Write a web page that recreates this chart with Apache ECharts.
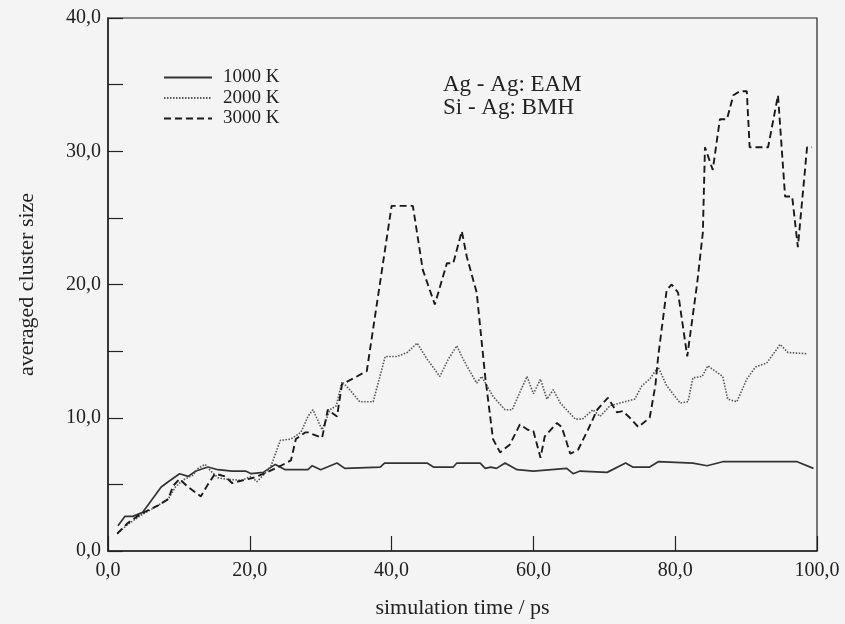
<!DOCTYPE html>
<html>
<head>
<meta charset="utf-8">
<script src="https://cdn.jsdelivr.net/npm/echarts@6/dist/echarts.min.js"></script>
<style>
html,body{margin:0;padding:0;background:#f3f4f3;}
#chart{width:845px;height:624px;}
</style>
</head>
<body>
<div id="chart"></div>
<script>
// ---- data ----
var seriesNames = ['1000 K', '2000 K', '3000 K'];

var t1000 = [1.4,2.4,3.5,4.9,7.5,8.5,10.1,11.3,12.4,14.1,15.5,17.5,19.4,20.2,21.9,23.6,25,28.2,28.8,30,32.3,33.4,38.4,39,45,45.9,48.7,49.2,52.5,53.2,54,54.8,56,57.7,60,64.7,65.6,66.6,70.4,73,74,76.4,77.6,82.5,84.5,86.7,97.2,99.5];
var v1000 = [1.9,2.6,2.6,2.9,4.8,5.2,5.8,5.6,6.0,6.3,6.1,6.0,6.0,5.8,5.9,6.5,6.1,6.1,6.4,6.1,6.6,6.2,6.3,6.6,6.6,6.3,6.3,6.6,6.6,6.2,6.3,6.2,6.6,6.1,6.0,6.2,5.8,6.0,5.9,6.6,6.3,6.3,6.7,6.6,6.4,6.7,6.7,6.2];

var t2000 = [1.3,2.8,4.7,7.0,8.5,9.5,10.5,12,12.7,13.7,14.5,15.5,16.5,18.8,20.2,21,22.1,23,24.3,25.8,27.2,28.2,28.9,30.2,31.3,32.2,33,34.1,35.5,37.4,39.1,40.8,42.2,43.6,45,46.8,48,49.2,49.9,50.6,52,52.7,54.3,56,57,59.1,60,61,61.9,62.8,63.8,65.9,66.9,68.4,69.4,70.8,72.2,74.3,75.3,76.4,77.6,78.8,80.7,81.8,82.5,83.8,84.6,85.9,86.7,87.4,88.7,90.1,91.3,92.9,94.8,95.9,98.6];
var v2000 = [1.3,2.0,2.7,3.4,3.9,4.8,5.3,5.7,6.2,6.5,6.0,5.5,5.4,5.3,5.6,5.2,5.8,6.4,8.3,8.4,8.9,10.1,10.6,9.1,10.6,10.9,12.7,12.1,11.2,11.2,14.6,14.6,14.9,15.6,14.4,13.1,14.4,15.4,14.6,13.9,12.6,13.1,11.6,10.6,10.6,13.1,11.8,12.9,11.4,12.1,11.1,9.9,9.9,10.6,10.1,10.9,11.1,11.4,12.4,12.9,13.8,12.4,11.1,11.2,13.0,13.1,13.9,13.4,13.1,11.4,11.2,12.9,13.8,14.1,15.5,14.9,14.8];

var t3000 = [1.3,2.8,4.7,7,8.5,9.2,10.1,11.3,13.1,14.1,15.1,16.5,17.5,19,20.5,22,24.4,25.8,26.5,27.8,28.2,30.2,31,32.3,33,34.4,36.5,40,43,44.4,46.1,47.8,48.7,49.9,50.6,52,53.2,54.3,55.3,56.7,58.1,59.2,60,61,61.6,63.3,64,65.2,66.3,67.7,69,70.5,71.8,72.6,73.6,74.8,76.4,77.2,77.6,78.8,79.5,80.4,81.7,83.1,83.9,84.2,85.3,86.3,87.3,88.2,89.1,90.1,90.5,93.1,94.5,95.5,96.5,97.3,98.6,99.3];
var v3000 = [1.3,2.1,2.8,3.4,3.9,4.9,5.4,4.8,4.1,5.0,5.8,5.6,5.1,5.3,5.5,5.8,6.4,6.8,8.4,8.9,8.9,8.5,10.6,10.1,12.5,12.9,13.5,25.9,25.9,21.1,18.5,21.6,21.6,24.0,22.1,19.4,13.1,8.4,7.4,8.0,9.5,9.1,9.0,7.0,8.6,9.6,9.3,7.3,7.6,9.1,10.6,11.5,10.4,10.5,10.0,9.3,10.0,12.4,14.6,19.6,20.0,19.4,14.6,20.1,23.9,30.3,28.6,32.4,32.4,34.2,34.5,34.5,30.3,30.3,34.2,26.6,26.6,22.8,30.3,30.3];

var annotations = ['Ag - Ag: EAM', 'Si - Ag: BMH'];
var xTitle = 'simulation time / ps';
var yTitle = 'averaged cluster size';

function zip(t, v) { return t.map(function (x, i) { return [x, v[i]]; }); }
function fmt(v) { return v.toFixed(1).replace('.', ','); }

var FONT = 'Liberation Serif';
var INK = '#222';

var chart = echarts.init(document.getElementById('chart'), null, {renderer: 'canvas'});
chart.setOption({
  backgroundColor: '#f3f4f3',
  animation: false,
  grid: {left: 108, right: 28, top: 18, bottom: 72, show: true, borderColor: INK, borderWidth: 1.2, backgroundColor: 'transparent'},
  legend: {
    orient: 'vertical', left: 158, top: 63,
    itemWidth: 48, itemHeight: 20, itemGap: 1.5,
    itemStyle: {opacity: 0},
    textStyle: {fontFamily: FONT, fontSize: 19, color: INK, padding: [0,0,0,6]},
    data: seriesNames
  },
  xAxis: {
    type: 'value', min: 0, max: 100, interval: 20,
    name: xTitle, nameLocation: 'middle', nameGap: 46,
    nameTextStyle: {fontFamily: FONT, fontSize: 22, color: INK},
    axisLine: {show: true, lineStyle: {color: INK, width: 1.5}},
    axisTick: {show: true, inside: true, length: 15, lineStyle: {color: INK, width: 1.2}},
    axisLabel: {fontFamily: FONT, fontSize: 20, color: INK, margin: 10, formatter: fmt},
    splitLine: {show: false}
  },
  yAxis: {
    type: 'value', min: 0, max: 40, interval: 5,
    name: yTitle, nameLocation: 'middle', nameGap: 70, nameRotate: 90,
    nameTextStyle: {fontFamily: FONT, fontSize: 22, color: INK},
    axisLine: {show: true, lineStyle: {color: INK, width: 1.5}},
    axisTick: {show: true, inside: true, length: 15, lineStyle: {color: INK, width: 1.2}},
    axisLabel: {fontFamily: FONT, fontSize: 20, color: INK, margin: 7,
      formatter: function (v) { return (v % 10 === 0) ? fmt(v) : ''; }},
    splitLine: {show: false}
  },
  graphic: [
    {type: 'text', left: 443, top: 73, style: {text: annotations[0], font: '23px "Liberation Serif"', fill: INK}},
    {type: 'text', left: 443, top: 96, style: {text: annotations[1], font: '23px "Liberation Serif"', fill: INK}}
  ],
  series: [
    {name: seriesNames[0], type: 'line', symbol: 'none', data: zip(t1000, v1000),
      lineStyle: {color: '#333', width: 1.7, type: 'solid'}, itemStyle: {color: '#333'}},
    {name: seriesNames[1], type: 'line', symbol: 'none', data: zip(t2000, v2000),
      lineStyle: {color: '#555', width: 1.6, type: [1.5, 1.5]}, itemStyle: {color: '#555'}},
    {name: seriesNames[2], type: 'line', symbol: 'none', data: zip(t3000, v3000),
      lineStyle: {color: '#1a1a1a', width: 1.9, type: [7, 4]}, itemStyle: {color: '#1a1a1a'}}
  ]
});
</script>
</body>
</html>
